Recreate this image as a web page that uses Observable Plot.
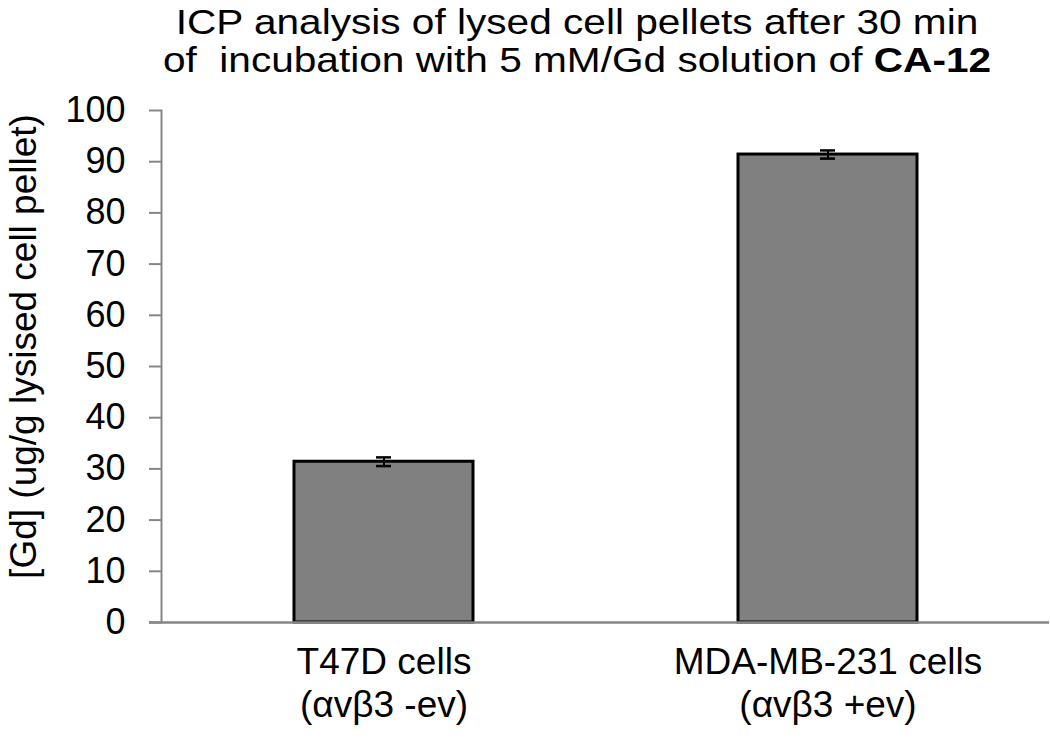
<!DOCTYPE html>
<html>
<head>
<meta charset="utf-8">
<script src="https://cdn.jsdelivr.net/npm/d3@7"></script>
<script src="https://cdn.jsdelivr.net/npm/@observablehq/plot@0.6"></script>
<style>
  body { margin: 0; background: #fff; font-family: "Liberation Sans", Arial, sans-serif; }
  #title { height: 85px; box-sizing: border-box; padding-top: 3px; padding-left: 104px; width: 1050px;
    text-align: center; font-size: 35px; line-height: 38px; color: #000; }
  #title span { display: inline-block; transform: scaleX(1.16); transform-origin: center; }
</style>
</head>
<body>
<div id="title"><span>ICP analysis of lysed cell pellets after 30 min<br>of&nbsp; incubation with 5 mM/Gd solution of <b>CA-12</b></span></div>
<div id="chart"></div>
<script>
const categories = ["T47D cells\n(αvβ3 -ev)", "MDA-MB-231 cells\n(αvβ3 +ev)"];
const values = [31.4, 91.4];
const errors = [0.85, 0.8];
const yTicks = [0, 10, 20, 30, 40, 50, 60, 70, 80, 90, 100];
const yLabel = "[Gd] (ug/g lysised cell pellet)";

const data = categories.map((c, i) => ({cat: c, v: values[i], lo: values[i] - errors[i], hi: values[i] + errors[i]}));

const chart = Plot.plot({
  width: 1050,
  height: 654,
  marginLeft: 161,
  marginRight: 1,
  marginTop: 25,
  marginBottom: 117,
  style: {fontFamily: "'Liberation Sans', Arial, sans-serif", fontSize: "36px", color: "#000", background: "#fff", overflow: "visible"},
  x: {domain: categories, paddingInner: 0.597, paddingOuter: 0.2985, label: null},
  y: {domain: [0, 100], label: null},
  marks: [
    Plot.barY(data, {x: "cat", y: "v", fill: "#808080", stroke: "#000", strokeWidth: 3}),
    Plot.ruleX(data, {x: "cat", y1: "lo", y2: "hi", stroke: "#000", strokeWidth: 2}),
    Plot.tickY(data, {x: "cat", y: "lo", stroke: "#000", strokeWidth: 2.5, insetLeft: 82, insetRight: 82}),
    Plot.tickY(data, {x: "cat", y: "hi", stroke: "#000", strokeWidth: 2.5, insetLeft: 82, insetRight: 82}),
    Plot.frame({anchor: "left", stroke: "#868686", strokeWidth: 2}),
    Plot.ruleY([0], {stroke: "#868686", strokeWidth: 2.5, insetLeft: -12}),
    Plot.axisY({ticks: yTicks, tickSize: 12, tickPadding: 24, stroke: "#868686", strokeWidth: 2, strokeOpacity: 1, fill: "#000", fontSize: 36, label: null}),
    Plot.axisX({tickSize: 0, tickPadding: 22, fill: "#000", fontSize: 37, lineHeight: 1.14, label: null}),
    Plot.text([yLabel], {text: d => d, frameAnchor: "left", textAnchor: "middle", rotate: -90, dx: -137, dy: -20, fontSize: 37, fill: "#000"})
  ]
});
document.getElementById("chart").appendChild(chart);
</script>
</body>
</html>
